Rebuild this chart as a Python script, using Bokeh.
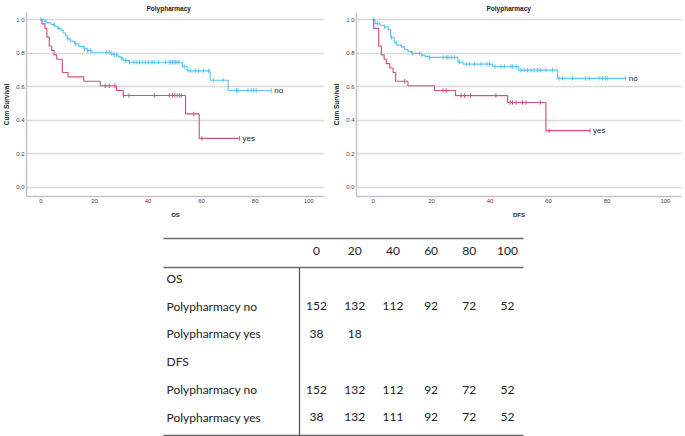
import numpy as np
from bokeh.plotting import figure
from bokeh.layouts import column, row
from bokeh.models import Range1d, FixedTicker, NumeralTickFormatter
from bokeh.core.properties import value
from bokeh.embed import file_html
from bokeh.resources import INLINE

# ---------------- data ----------------
x_ticks = [0, 20, 40, 60, 80, 100]
y_ticks = [0.0, 0.2, 0.4, 0.6, 0.8, 1.0]

# OS, Polypharmacy = no
os_no_t = [1.2, 2.1, 3.7, 5.2, 6.1, 7.4, 8.3, 9.2, 9.8, 11.0, 12.6, 14.1, 16.0, 17.2, 19.0,
           25.8, 27.0, 28.8, 30.1, 30.9, 32.9, 52.8, 54.6, 63.2, 69.9]
os_no_s = [0.99, 0.98, 0.97, 0.96, 0.947, 0.937, 0.92, 0.905, 0.885, 0.87, 0.855, 0.84, 0.825,
           0.815, 0.805, 0.797, 0.79, 0.777, 0.765, 0.755, 0.745, 0.72, 0.694, 0.638, 0.577]
os_no_end = 86.0
os_no_cens = [0, 1.8, 4.9, 6.7, 10.1, 12.9, 16.3, 17.5, 18.6, 24.5, 25.5, 26.4, 27.4, 28.2, 30.3,
              31.7, 33.1, 34.7, 35.6, 36.8, 38.0, 39.0, 40.2, 41.5, 42.3, 43.9, 46.6, 47.9, 48.5,
              49.1, 49.7, 50.3, 50.9, 51.5, 53.5, 55.8, 57.7, 58.9, 60.6, 62.6, 64.4, 68.0, 73.0,
              73.6, 77.3, 78.5, 79.5, 80.4, 86.0]

# OS, Polypharmacy = yes
os_yes_t = [0.4, 1.5, 2.2, 3.1, 4.0, 4.9, 5.9, 8.0, 10.1, 16.0, 22.1, 28.2, 30.7, 54.0, 59.1]
os_yes_s = [0.974, 0.947, 0.895, 0.842, 0.816, 0.789, 0.763, 0.684, 0.658, 0.632, 0.605,
            0.577, 0.547, 0.437, 0.291]
os_yes_end = 74.2
os_yes_cens = [24.0, 25.5, 27.6, 30.9, 32.9, 42.3, 47.9, 49.1, 50.0, 50.9, 51.7, 52.4, 57.1,
               60.1, 74.2]

# DFS, Polypharmacy = no
dfs_no_t = [0.6, 2.3, 3.75, 5.1, 6.0, 7.2, 8.0, 9.7, 10.8, 11.9, 13.1, 16.5, 17.8, 19.0,
            29.0, 30.7, 40.9, 49.7, 63.1]
dfs_no_s = [0.976, 0.966, 0.956, 0.94, 0.893, 0.861, 0.847, 0.837, 0.821, 0.81, 0.798, 0.788,
            0.78, 0.774, 0.746, 0.734, 0.72, 0.698, 0.649]
dfs_no_end = 86.4
dfs_no_cens = [0, 1.5, 4.0, 6.3, 7.95, 13.4, 15.9, 16.7, 19.3, 23.9, 25.0, 25.6, 26.7, 27.8,
               29.5, 31.8, 32.95, 34.7, 36.9, 38.95, 39.8, 41.7, 43.75, 44.9, 47.2, 47.7, 48.9,
               50.6, 51.7, 52.8, 53.98, 55.1, 56.25, 57.2, 59.1, 61.4, 63.6, 64.8, 68.2, 72.7,
               73.9, 77.3, 78.4, 79.5, 80.1, 86.4]

# DFS, Polypharmacy = yes
dfs_yes_t = [0.2, 1.9, 2.8, 3.75, 4.5, 5.7, 6.8, 7.7, 11.9, 21.0, 28.2, 46.0, 59.1]
dfs_yes_s = [0.947, 0.842, 0.789, 0.763, 0.737, 0.711, 0.684, 0.632, 0.605, 0.577, 0.546,
             0.505, 0.337]
dfs_yes_end = 74.2
dfs_yes_cens = [10.8, 23.9, 25.0, 30.1, 31.3, 33.3, 42.0, 46.9, 47.7, 48.9, 51.1, 52.3, 57.2,
                60.2, 74.2]

# Numbers at risk table
risk_times = [0, 20, 40, 60, 80, 100]
row_labels = ["OS", "Polypharmacy no", "Polypharmacy yes", "DFS", "Polypharmacy no",
              "Polypharmacy yes"]
os_no_risk = [152, 132, 112, 92, 72, 52]
os_yes_risk = [38, 18]
dfs_no_risk = [152, 132, 112, 92, 72, 52]
dfs_yes_risk = [38, 132, 111, 92, 72, 52]

# ---------------- styles ----------------
BLUE = "#5ac3f9"
RED = "#cf5084"
AXIS = "#c4c4c4"
GRID = "#dadada"
TXT = "#222222"
FONT = "Liberation Sans"


def surv_at(times, surv, t):
    idx = np.searchsorted(np.asarray(times), np.asarray(t), side="right")
    s = np.concatenate([[1.0], np.asarray(surv)])
    return s[idx]


def km_panel(width, b_left, b_right, x_start, x_end, title_offset, xlabel, curves):
    p = figure(width=width, height=222, x_range=Range1d(x_start, x_end),
               y_range=Range1d(-0.0555, 1.042), output_backend="svg", toolbar_location=None,
               min_border_left=b_left, min_border_right=b_right, min_border_top=12,
               min_border_bottom=26, background_fill_color="white", border_fill_color="white")
    p.title.text = "Polypharmacy"
    p.title.align = "left"
    p.title.offset = title_offset
    p.title.text_font = FONT
    p.title.text_font_size = "6.5px"
    p.title.text_font_style = "bold"
    p.title.text_color = TXT
    p.title.standoff = 1
    p.outline_line_color = None
    p.xgrid.visible = False
    p.ygrid.grid_line_color = GRID
    p.ygrid.grid_line_width = 1.5
    p.xaxis.ticker = FixedTicker(ticks=x_ticks)
    p.yaxis.ticker = FixedTicker(ticks=y_ticks)
    p.yaxis.formatter = NumeralTickFormatter(format="0.0")
    for ax in (p.xaxis[0], p.yaxis[0]):
        ax.axis_line_color = AXIS
        ax.axis_line_width = 1.5
        ax.major_tick_line_color = None
        ax.minor_tick_line_color = None
        ax.major_tick_in = 0
        ax.major_tick_out = 0
        ax.minor_tick_in = 0
        ax.minor_tick_out = 0
        ax.major_label_text_font = FONT
        ax.major_label_text_font_size = "6px"
        ax.major_label_text_color = "#444444"
        ax.major_label_standoff = 2
        ax.axis_label_text_font = FONT
        ax.axis_label_text_font_style = "bold"
        ax.axis_label_text_color = TXT
    p.xaxis.axis_label = xlabel
    p.xaxis.axis_label_text_font_size = "6px"
    p.xaxis.axis_label_standoff = 6
    p.yaxis.axis_label = "Cum Survival"
    p.yaxis.axis_label_text_font_size = "6.5px"
    p.yaxis.axis_label_standoff = 3

    for times, surv, end, cens, color, label in curves:
        xs = [0.0] + list(times) + [end]
        ys = [1.0] + list(surv) + [surv[-1]]
        p.step(xs, ys, mode="after", line_color=color, line_width=1.15)
        p.scatter(cens, surv_at(times, surv, cens), marker="dash", angle=np.pi / 2, size=4.5,
                  line_color=color, line_width=1)
        p.text([end], [surv[-1]], text=[label], x_offset=3, text_align="left",
               text_baseline="middle", text_font=value(FONT), text_font_size="8px",
               text_color=TXT)
    return p


p1 = km_panel(330, 22, 6, -5.4, 105.9, 120, "OS", [
    (os_no_t, os_no_s, os_no_end, os_no_cens, BLUE, "no"),
    (os_yes_t, os_yes_s, os_yes_end, os_yes_cens, RED, "yes"),
])
p2 = km_panel(355, 25, 4, -5.7, 105.5, 130, "DFS", [
    (dfs_no_t, dfs_no_s, dfs_no_end, dfs_no_cens, BLUE, "no"),
    (dfs_yes_t, dfs_yes_s, dfs_yes_end, dfs_yes_cens, RED, "yes"),
])

# ---------------- table ----------------
TW, TH = 685, 214
PXU = 1.91          # px per time unit in table columns
X0PX = 316          # px position of column "0"
ROWPX = 27.8        # row spacing
HDRPX = 28          # px position of header row
tx0 = -X0PX / PXU
tx1 = (TW - X0PX) / PXU
ty_top = -HDRPX / ROWPX
ty_bot = (TH - HDRPX) / ROWPX


def dx(px):
    return tx0 + px / PXU


def dy(px):
    return ty_top + px / ROWPX


p3 = figure(width=TW, height=TH, x_range=Range1d(tx0, tx1), y_range=Range1d(ty_bot, ty_top),
            output_backend="svg", toolbar_location=None, x_axis_type=None, y_axis_type=None,
            min_border=0, background_fill_color="white", border_fill_color="white")
p3.outline_line_color = None
p3.grid.visible = False

RULE = "#6a6a6a"
p3.segment(x0=[dx(163)] * 3, x1=[dx(523)] * 3, y0=[dy(16), dy(45), dy(213)],
           y1=[dy(16), dy(45), dy(213)], line_color=RULE, line_width=1.3)
p3.segment(x0=[dx(299)], x1=[dx(299)], y0=[dy(45)], y1=[dy(213)], line_color="#555555",
           line_width=1.3)

tfont = value("Lato")
p3.text(risk_times, [0] * len(risk_times), text=[str(v) for v in risk_times],
        text_align="center", text_baseline="middle", text_font=tfont, text_font_size="12px",
        text_color=TXT)
p3.text([dx(166)] * len(row_labels), list(range(1, len(row_labels) + 1)), text=row_labels,
        text_align="left", text_baseline="middle", text_font=tfont, text_font_size="12px",
        text_color=TXT)
for ridx, vals in [(2, os_no_risk), (3, os_yes_risk), (5, dfs_no_risk), (6, dfs_yes_risk)]:
    p3.text(risk_times[:len(vals)], [ridx] * len(vals), text=[str(v) for v in vals],
            text_align="center", text_baseline="middle", text_font=tfont,
            text_font_size="12px", text_color=TXT)

layout = column(row(p1, p2), p3)
open("out.html", "w").write(file_html(layout, INLINE))
